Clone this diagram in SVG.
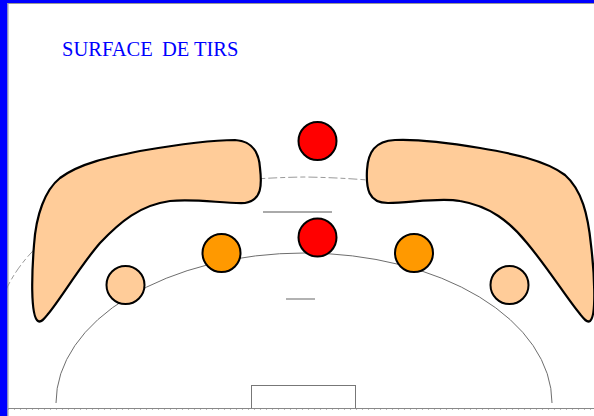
<svg xmlns="http://www.w3.org/2000/svg" width="594" height="416" viewBox="0 0 594 416">
<style>
.court{fill:none;stroke:#6e6e6e;stroke-width:1}
.nine{fill:none;stroke:#9a9a9a;stroke-width:1;stroke-dasharray:9 3 5 3}
.zone{fill:#FFCC99;stroke:#000;stroke-width:2.2;stroke-linejoin:round}
.p{stroke:#000;stroke-width:2}
.red{fill:#FF0000}
.orange{fill:#FF9900}
.peach{fill:#FFCC99}
.title{font-family:"Liberation Serif","Times New Roman",serif;font-size:20.5px;fill:#0000FF}
</style>
<rect x="0" y="0" width="594" height="416" fill="#fff"/>
<g id="court">
<path class="nine" d="M6,290 C20,258 60,215 120,200 C180,185 240,178 304,177 C370,178 430,185 490,200 C550,215 590,258 602,290"/>
<path class="court" d="M56,403 A248,150 0 0 1 552,403"/>
<line x1="263" y1="212" x2="332" y2="212" stroke="#aaa" stroke-width="2"/>
<line x1="286" y1="299" x2="315" y2="299" stroke="#999" stroke-width="1.5"/>
<rect x="251.5" y="385.5" width="104" height="23" fill="none" stroke="#777" stroke-width="1"/>
<line x1="8" y1="408.5" x2="594" y2="408.5" stroke="#888" stroke-width="1"/>
<line x1="8" y1="409.5" x2="594" y2="409.5" stroke="#bbb" stroke-width="1" stroke-dasharray="1 5"/>
</g>
<g id="zone-left"><path class="zone" d="M38,321 C30,316 32,270 34,245 C36,215 45,190 60,178 C80,163 110,157 140,151 C175,145 210,140 235,140 C252,141 259,152 260,168 C262,185 262,200 245,203 C225,204 195,198 170,201 C140,205 120,222 100,243 C80,266 60,300 48,314 C44,319 41,323 38,321 Z"/></g>
<g id="zone-right"><path class="zone" d="M590,321 C597,316 594,270 591,245 C588,215 582,190 565,175 C545,160 510,153 480,148 C450,143 415,139 395,140 C375,141 368,152 367,170 C366,188 368,203 388,203 C410,203 440,197 460,201 C490,206 510,222 527,243 C548,268 568,300 580,314 C584,319 587,323 590,321 Z"/></g>
<g id="player-red-top"><circle class="p red" cx="317.5" cy="141" r="19"/></g>
<g id="player-red-center"><circle class="p red" cx="317.5" cy="237.5" r="19"/></g>
<g id="player-orange-left"><circle class="p orange" cx="221.5" cy="253" r="19"/></g>
<g id="player-orange-right"><circle class="p orange" cx="414" cy="253" r="19"/></g>
<g id="player-peach-left"><circle class="p peach" cx="125.5" cy="285" r="19"/></g>
<g id="player-peach-right"><circle class="p peach" cx="509.5" cy="285" r="19"/></g>
<g id="connectors"></g>
<g id="frame">
<rect x="0" y="0" width="594" height="3" fill="#0000FF"/>
<rect x="0" y="0" width="7.5" height="416" fill="#0000FF"/>
<line x1="7.5" y1="3.5" x2="594" y2="3.5" stroke="#999" stroke-width="1"/>
<line x1="8" y1="3.5" x2="8" y2="416" stroke="#999" stroke-width="1"/>
</g>
<g id="title"><text class="title" x="62" y="56">SURFACE <tspan dx="4">DE TIRS</tspan></text></g>
</svg>
